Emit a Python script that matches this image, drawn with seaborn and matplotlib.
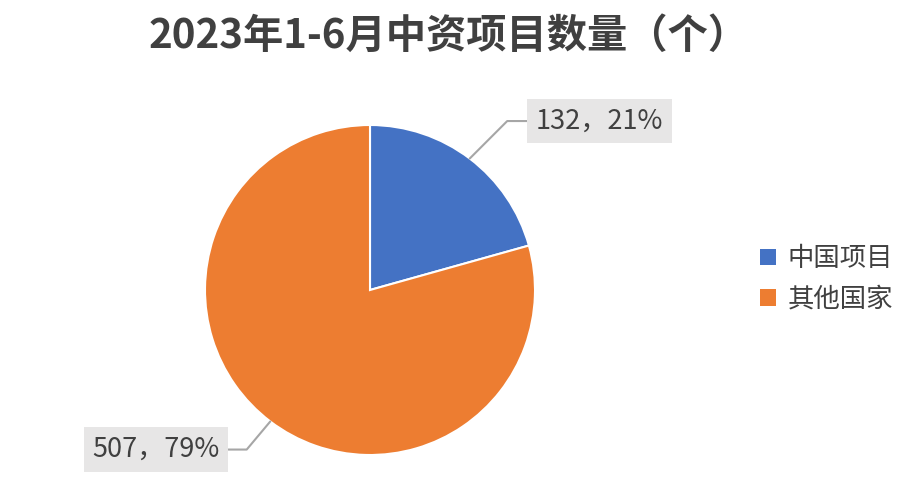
import numpy as np
import pandas as pd
import seaborn as sns
import matplotlib.pyplot as plt
from matplotlib.patches import Patch

sns.set_theme(style="white")
plt.rcParams["font.family"] = ["Noto Sans CJK SC", "DejaVu Sans"]

categories = ["中国项目", "其他国家"]
counts = [132, 507]
title = "2023年1-6月中资项目数量（个）"

colors = ["#4472C4", "#ED7D31"]
text_color = "#404040"

df = pd.DataFrame({"类别": categories, "数量": counts})
total = df["数量"].sum()
df["占比"] = (df["数量"] / total * 100).round().astype(int)

fig = plt.figure(figsize=(9.16, 4.98), dpi=100)
r_px = 165
cx, cy = 370, 290
ax = fig.add_axes([(cx - r_px) / 916, (498 - cy - r_px) / 498, 2 * r_px / 916, 2 * r_px / 498])

wedges, _ = ax.pie(
    df["数量"],
    colors=colors,
    startangle=90,
    counterclock=False,
    radius=1,
    wedgeprops=dict(edgecolor="white", linewidth=1.5),
)
ax.set_xlim(-1, 1)
ax.set_ylim(-1, 1)
ax.set_aspect("equal")
ax.axis("off")

# label boxes (positions in data units of the pie axes)
label_pos = [(1.391, 1.024), (-1.297, -0.967)]
leader_angle = [45, 50]
for w, (_, row), pos, ang in zip(wedges, df.iterrows(), label_pos, leader_angle):
    mid = np.deg2rad((w.theta1 + w.theta2) / 2)
    xy = (np.cos(mid), np.sin(mid))
    ax.annotate(
        f"{row['数量']}，{row['占比']}%",
        xy=xy,
        xytext=pos,
        ha="center",
        va="center",
        fontsize=19.5,
        color=text_color,
        bbox=dict(boxstyle="square,pad=0.32", fc="#E7E6E6", ec="none"),
        arrowprops=dict(
            arrowstyle="-",
            color="#A6A6A6",
            lw=1.5,
            shrinkA=0,
            shrinkB=0,
            connectionstyle=f"angle,angleA=0,angleB={ang},rad=0",
        ),
        annotation_clip=False,
    )

handles = [Patch(facecolor=c, edgecolor="none") for c in colors]
fig.legend(
    handles,
    categories,
    loc="center left",
    bbox_to_anchor=(760 / 916, 1 - 279 / 498),
    frameon=False,
    borderpad=0,
    borderaxespad=0,
    fontsize=19,
    handlelength=0.6,
    handleheight=0.6,
    handletextpad=0.45,
    labelspacing=0.5,
    labelcolor=text_color,
)

fig.text(0.49, 1 - 36 / 498, title, ha="center", va="center",
         fontsize=29, fontweight="bold", color=text_color)

fig.savefig("out.png", dpi=100, facecolor="white")
